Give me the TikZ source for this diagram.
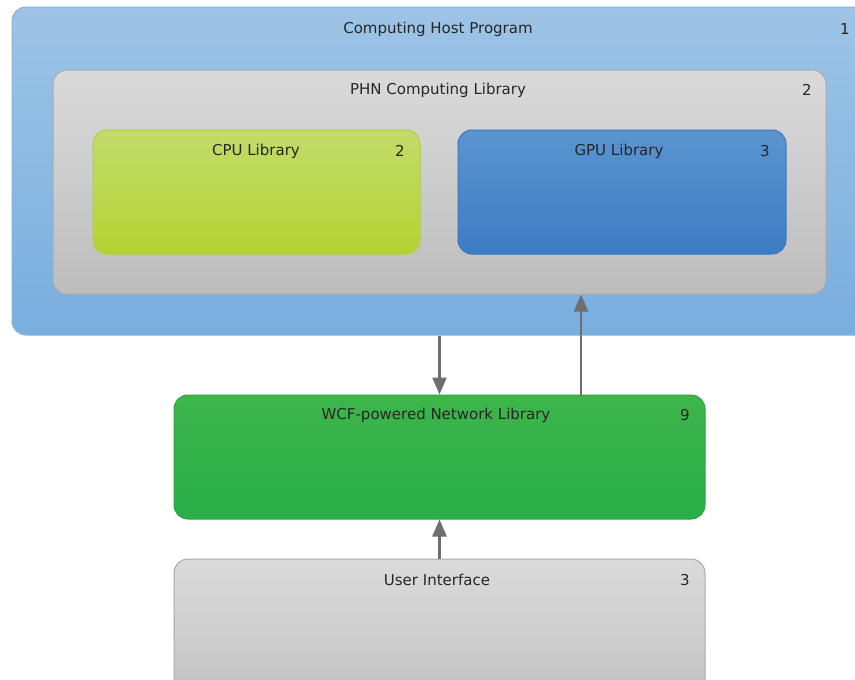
\documentclass[tikz,border=0pt]{standalone}
\usepackage{fontspec}
\setmainfont{DejaVu Sans}
\usetikzlibrary{arrows.meta}

\definecolor{hostTop}{HTML}{9DC4E6}
\definecolor{hostBot}{HTML}{79AEDF}
\definecolor{hostEdge}{HTML}{86B3DD}
\definecolor{phnTop}{HTML}{DADADA}
\definecolor{phnBot}{HTML}{BDBDBD}
\definecolor{phnEdge}{HTML}{ABABAB}
\definecolor{cpuTop}{HTML}{C3DC6A}
\definecolor{cpuBot}{HTML}{B4D332}
\definecolor{cpuEdge}{HTML}{B0D23A}
\definecolor{gpuTop}{HTML}{5A95D0}
\definecolor{gpuBot}{HTML}{3E7CC3}
\definecolor{gpuEdge}{HTML}{3B76BC}
\definecolor{wcfTop}{HTML}{3DB54B}
\definecolor{wcfBot}{HTML}{29AF48}
\definecolor{wcfEdge}{HTML}{2BA443}
\definecolor{uiTop}{HTML}{DBDBDB}
\definecolor{uiBot}{HTML}{C2C2C2}
\definecolor{uiEdge}{HTML}{A9A9A9}
\definecolor{arrowGray}{HTML}{6E6E6E}

\begin{document}
\begin{tikzpicture}[x=1pt, y=-1pt,
    box/.style={rounded corners=14pt, line width=1pt, inner sep=0pt},
    lbl/.style={font=\fontsize{15}{18}\selectfont, inner sep=0pt, text=black!85},
    arr/.style={draw=arrowGray, line width=2.5pt, -{Triangle[width=14pt,length=17pt]}}]
        \useasboundingbox (0,0) rectangle (855,680);
        \clip (0,0) rectangle (855,680);

        % boxes
        \node[box, draw=hostEdge, top color=hostTop, bottom color=hostBot, minimum width=863pt, minimum height=328pt] (host) at (443.5,171) {};
        \node[box, draw=phnEdge, top color=phnTop, bottom color=phnBot, minimum width=773pt, minimum height=224pt] (phn) at (439.5,182) {};
        \node[box, draw=cpuEdge, top color=cpuTop, bottom color=cpuBot, minimum width=327pt, minimum height=124pt] (cpu) at (256.5,192) {};
        \node[box, draw=gpuEdge, top color=gpuTop, bottom color=gpuBot, minimum width=328pt, minimum height=124pt] (gpu) at (622,192) {};
        \node[box, draw=wcfEdge, top color=wcfTop, bottom color=wcfBot, minimum width=531pt, minimum height=124pt] (wcf) at (439.5,457) {};
        \node[box, draw=uiEdge, top color=uiTop, bottom color=uiBot, minimum width=531pt, minimum height=141pt] (ui) at (439.5,629.5) {};

        % titles and counts
        \node[lbl] (hostT) at (438, 29) {Computing Host Program};
        \node[lbl] (hostN) at (845, 29) {1};
        \node[lbl] (phnT) at (438, 90) {PHN Computing Library};
        \node[lbl] (phnN) at (807, 90) {2};
        \node[lbl] (cpuT) at (256, 151) {CPU Library};
        \node[lbl] (cpuN) at (400, 151) {2};
        \node[lbl] (gpuT) at (619, 151) {GPU Library};
        \node[lbl] (gpuN) at (765, 151) {3};
        \node[lbl] (wcfT) at (436, 415) {WCF-powered Network Library};
        \node[lbl] (wcfN) at (685, 415) {9};
        \node[lbl] (uiT) at (437, 580) {User Interface};
        \node[lbl] (uiN) at (685, 580) {3};

        % connectors
        \coordinate (upX) at (581, 0);
        \draw[arr] (wcf.north |- host.south) -- (wcf.north);
        \draw[arr] (upX |- wcf.north) -- (upX |- phn.south);
        \draw[arr] (ui.north) -- (wcf.south);

    \end{tikzpicture}
\end{document}
